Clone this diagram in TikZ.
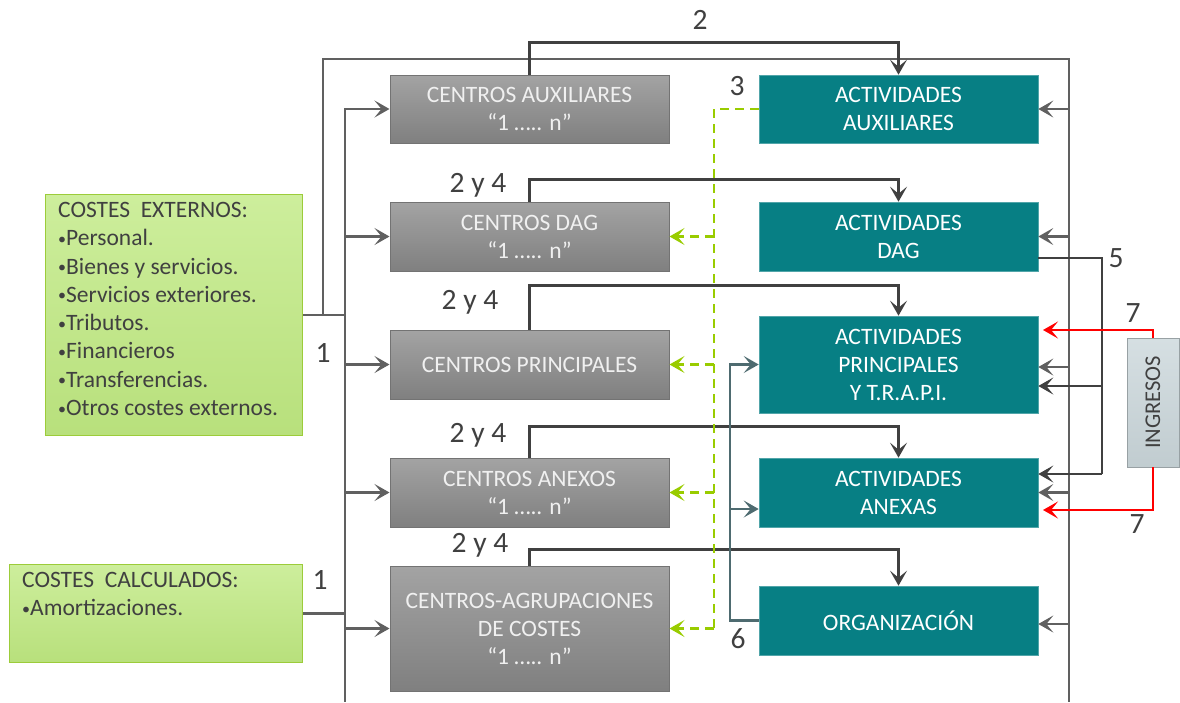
\documentclass[tikz,border=0pt]{standalone}
\usepackage{fontspec}
\setmainfont{Carlito}
\usetikzlibrary{arrows.meta}
\definecolor{tealbox}{HTML}{077F84}
\definecolor{txt}{HTML}{404040}
\definecolor{lnk}{HTML}{404040}
\definecolor{bus}{HTML}{606060}
\definecolor{slate}{HTML}{4E6B70}
\definecolor{dgreen}{HTML}{99CC00}
\definecolor{ingfill}{HTML}{CBD7DB}
\definecolor{gtop}{HTML}{CDEE9C}
\definecolor{gbot}{HTML}{B8E07C}
\definecolor{gbrd}{HTML}{9CCC3A}
\newcommand{\bul}{\raisebox{1.5pt}{\fontsize{16}{16}\selectfont •}}
\begin{document}
\begin{tikzpicture}[x=1pt,y=-1pt,
  centro/.style={draw=black!55,line width=1pt,top color=black!36,bottom color=black!50,
    minimum width=279pt,text=white!94!black,align=center,font=\fontsize{23.5}{28}\selectfont,inner sep=0pt},
  actv/.style={fill=tealbox,draw=tealbox!70!white,line width=0.6pt,minimum width=279pt,text=white,
    align=center,font=\fontsize{23.5}{28}\selectfont,inner sep=0pt},
  coste/.style={draw=gbrd,line width=1pt,top color=gtop,bottom color=gbot,
    inner sep=0pt,anchor=north west},
  lbl/.style={text=txt,font=\fontsize{29.5}{29.5}\selectfont,inner sep=0pt},
  arr/.style={-{Stealth[length=15pt,width=17pt,inset=7pt]}},
  flow/.style={draw=lnk,line width=2.8pt},
  busl/.style={draw=bus,line width=2.2pt},
  dash6/.style={draw=dgreen,line width=2.8pt,dash pattern=on 9pt off 6pt},
  sixl/.style={draw=slate,line width=2.6pt},
  redl/.style={draw=red,line width=2.8pt}]
\useasboundingbox (0,0) rectangle (1180,702);

% centros
\node[centro,minimum height=68pt] (caux) at (529.5,109) {CENTROS AUXILIARES\\“1 ….. n”};
\node[centro,minimum height=69pt] (cdag) at (529.5,236.5) {CENTROS DAG\\“1 ….. n”};
\node[centro,minimum height=69pt] (cpri) at (529.5,364.5) {CENTROS PRINCIPALES};
\node[centro,minimum height=69pt] (canx) at (529.5,492.5) {CENTROS ANEXOS\\“1 ….. n”};
\node[centro,minimum height=125pt] (cagr) at (529.5,628.5) {CENTROS-AGRUPACIONES\\DE COSTES\\“1 ….. n”};

% actividades
\node[actv,minimum height=68pt] (aaux) at (898.5,109) {ACTIVIDADES\\AUXILIARES};
\node[actv,minimum height=69pt] (adag) at (898.5,236.5) {ACTIVIDADES\\DAG};
\node[actv,minimum height=97pt] (apri) at (898.5,364.5) {ACTIVIDADES\\PRINCIPALES\\Y T.R.A.P.I.};
\node[actv,minimum height=69pt] (aanx) at (898.5,492.5) {ACTIVIDADES\\ANEXAS};
\node[actv,minimum height=69pt] (aorg) at (898.5,620.5) {ORGANIZACIÓN};

% costes
\node[coste,minimum width=257pt,minimum height=241pt] (cext) at (45,194) {};
\node[anchor=north west,text=txt,align=left,inner sep=0pt,font=\fontsize{23.5}{28.3}\selectfont] (cexttxt) at (58,202)
  {COSTES\ \ EXTERNOS:\\\bul Personal.\\\bul Bienes y servicios.\\\bul Servicios exteriores.\\\bul Tributos.\\\bul Financieros\\\bul Transferencias.\\\bul Otros costes externos.};
\node[coste,minimum width=293pt,minimum height=98pt] (ccal) at (9,564) {};
\node[anchor=north west,text=txt,align=left,inner sep=0pt,font=\fontsize{23.5}{28.3}\selectfont] (ccaltxt) at (22,572)
  {COSTES\ \ CALCULADOS:\\\bul Amortizaciones.};

% ingresos
\node[draw=ingfill!75!black,line width=0.8pt,top color=ingfill!80!white,bottom color=ingfill!95!black,
  minimum width=52pt,minimum height=129pt,inner sep=0pt] (ing) at (1153,402.5) {};
\node[rotate=90,text=txt,font=\fontsize{22.5}{22.5}\selectfont] (ingtxt) at (ing.center) {INGRESOS};

% coordinates
\coordinate (bx) at (345,0);
\coordinate (lx) at (323,0);
\coordinate (rx) at (1069,0);
\coordinate (gx) at (714,0);
\coordinate (sx) at (730,0);

% bus lines
\draw[busl] (cext.east) -- (cext.east -| bx);
\draw[busl] (ccal.east) -- (ccal.east -| bx);
\draw[busl] (345,108) -- (345,702);
\draw[busl] (cext.east -| lx) -- (323,59) -- (1069,59) -- (1069,702);
\foreach \n in {caux,cdag,cpri,canx,cagr}
  \draw[busl,arr] (\n.west -| bx) -- (\n.west);
\foreach \n in {aaux,adag,aanx}
  \draw[busl,arr] (\n.east -| rx) -- (\n.east);
\draw[busl,arr] (1069,367) -- (apri.east |- 0,367);
\draw[busl,arr] (1069,624) -- (aorg.east |- 0,624);

% 2 and 2 y 4 flows
\draw[flow,arr] (caux.north) -- ++(0,-32) -| (aaux.north);
\draw[flow,arr] (cdag.north) -- ++(0,-22) -| (adag.north);
\draw[flow,arr] (cpri.north) -- ++(0,-44) -| (apri.north);
\draw[flow,arr] (canx.north) -- ++(0,-31) -| (aanx.north);
\draw[flow,arr] (cagr.north) -- ++(0,-16) -| (aorg.north);

% 5
\draw[flow] (aorg.east |- 0,258) -- (1102,258) -- (1102,474);
\draw[flow,arr] (1102,386) -- (apri.east |- 0,386);
\draw[flow,arr] (1102,474) -- (aanx.east |- 0,474);

% 3 dashed
\draw[dash6] (aaux.west) -- (aaux.west -| gx) -- (714,629);
\foreach \n in {cdag,cpri,canx,cagr}
  \draw[dash6,arr] (\n.east -| gx) -- (\n.east);

% 6
\draw[sixl,arr] (aorg.west) -- (aorg.west -| sx) -- (730,364.5) -- (apri.west);
\draw[sixl,arr] (730,509) -- (aanx.west |- 0,509);

% 7 red
\draw[redl,arr] (ing.north) -- (1153,330) -- (1043,330);
\draw[redl,arr] (ing.south) -- (1153,510) -- (1043,510);

% labels
\node[lbl] (l2) at (700,20) {2};
\node[lbl] (l3) at (737,86) {3};
\node[lbl] (l24a) at (478,185) {2 y 4};
\node[lbl] (l24b) at (470,302) {2 y 4};
\node[lbl] (l24c) at (478,435) {2 y 4};
\node[lbl] (l24d) at (480,545) {2 y 4};
\node[lbl] (l1a) at (323,353) {1};
\node[lbl] (l1b) at (320,580) {1};
\node[lbl] (l5) at (1116,258) {5};
\node[lbl] (l7a) at (1133,313) {7};
\node[lbl] (l7b) at (1137,524) {7};
\node[lbl] (l6) at (738,639) {6};
\end{tikzpicture}
\end{document}
